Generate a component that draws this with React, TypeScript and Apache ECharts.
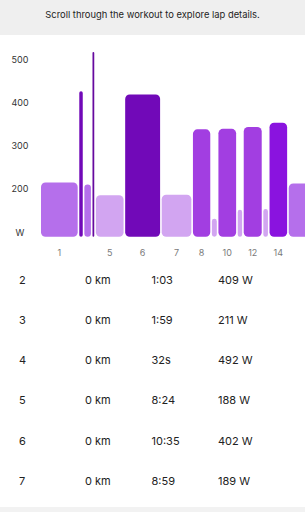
import React, { useEffect, useRef } from "react";
import * as echarts from "echarts";

// ---- data ----
const lapNumbers = [1, 2, 3, 4, 5, 6, 7, 8, 9, 10, 11, 12, 13, 14, 15];
const lapDurationsSec = [667, 63, 119, 32, 504, 635, 539, 315, 90, 322, 80, 327, 84, 320, 700];
const lapPowersW = [215, 409, 211, 492, 188, 402, 189, 328, 138, 329, 157, 333, 159, 342, 213];
const lapDistancesKm = [0, 0, 0, 0, 0, 0, 0, 0, 0, 0, 0, 0, 0, 0, 0];
const yTickValues = [100, 200, 300, 400, 500];
const yTickLabels = ["W", "200", "300", "400", "500"];
const tableLapIndices = [1, 2, 3, 4, 5, 6];
const headerText = "Scroll through the workout to explore lap details.";

// zones: upper bound -> colour
const zoneBounds = [200, 300, 336, 400, 450, 10000];
const zoneColors = ["#d2a5f1", "#b56feb", "#a23ee1", "#8a13df", "#7109b8", "#66099f"];

const FONT = "Inter";
const GAP = 1.6;
const WIDTH = 305;

function zoneColor(v: number) {
  for (let i = 0; i < zoneBounds.length; i++) if (v < zoneBounds[i]) return zoneColors[i];
  return zoneColors[zoneColors.length - 1];
}
function fmtDur(s: number) {
  if (s < 60) return s + "s";
  const m = Math.floor(s / 60);
  const r = s % 60;
  return m + ":" + (r < 10 ? "0" : "") + r;
}

export default function App() {
  const ref = useRef<HTMLDivElement>(null);
  useEffect(() => {
    document.body.style.margin = "0";
    if (!ref.current) return;
    const chart = echarts.init(ref.current, undefined, { renderer: "svg" });

    let acc = 0;
    const barData = lapNumbers.map((n, i) => {
      const start = acc;
      acc += lapDurationsSec[i];
      return [start, acc, lapPowersW[i], i, n];
    });

    const graphics: any[] = [
      { type: "rect", left: 0, top: 0, shape: { width: WIDTH, height: 35 }, style: { fill: "#efefef" }, silent: true },
      {
        type: "text",
        x: 152.5,
        y: 14.5,
        style: { text: headerText, fill: "#1e1e1e", font: `9.4px ${FONT}`, align: "center", verticalAlign: "middle" },
      },
      { type: "rect", left: 0, top: 507, shape: { width: WIDTH, height: 5 }, style: { fill: "#f2f2f2" }, silent: true },
    ];
    const colX = [19, 85, 151.5, 218];
    tableLapIndices.forEach((li, r) => {
      const y = 279.5 + r * 40.3;
      const cells = [
        String(lapNumbers[li]),
        lapDistancesKm[li] + " km",
        fmtDur(lapDurationsSec[li]),
        lapPowersW[li] + " W",
      ];
      cells.forEach((c, ci) => {
        graphics.push({
          type: "text",
          x: colX[ci],
          y,
          style: { text: c, fill: "#222", font: `11px ${FONT}`, align: "left", verticalAlign: "middle" },
        });
      });
    });

    chart.setOption({
      animation: false,
      grid: [
        { left: 41, right: 0, top: 38.9, bottom: 512 - 236.7 },
        { left: 41, right: 0, top: 59, bottom: 512 - 232.3 },
      ],
      xAxis: [
        { type: "value", gridIndex: 0, min: 0, max: 4800, show: false },
        { type: "value", gridIndex: 1, min: 0, max: 1, show: false },
      ],
      yAxis: [
        { type: "value", gridIndex: 0, min: 100, max: 520, show: false },
        {
          type: "value",
          gridIndex: 1,
          min: 100,
          max: 500,
          interval: 100,
          axisLine: { show: false },
          axisTick: { show: false },
          splitLine: { show: false },
          axisLabel: {
            align: "center",
            margin: 21,
            color: "#333",
            fontFamily: FONT,
            fontSize: 9,
            formatter: (v: number) => {
              const i = yTickValues.indexOf(v);
              return i >= 0 ? yTickLabels[i] : "";
            },
          },
        },
      ],
      series: [
        {
          type: "custom",
          xAxisIndex: 0,
          yAxisIndex: 0,
          clip: false,
          data: barData,
          renderItem: (params: any, api: any) => {
            const start = api.value(0);
            const end = api.value(1);
            const v = api.value(2);
            const idx = api.value(3);
            const lap = api.value(4);
            const p0 = api.coord([start, v]);
            const p1 = api.coord([end, 100]);
            const x0 = p0[0] + idx * GAP;
            const w = p1[0] - p0[0];
            const h = p1[1] - p0[1];
            const cs = params.coordSys;
            const children: any[] = [
              {
                type: "rect",
                shape: { x: x0, y: p0[1], width: w, height: h, r: Math.min(4.5, w / 2) },
                style: { fill: zoneColor(v) },
              },
            ];
            if (w > 10 && x0 + w <= cs.x + cs.width) {
              children.push({
                type: "text",
                x: x0 + w / 2,
                y: p1[1] + 16,
                style: {
                  text: String(lap),
                  fill: "#7a7a7a",
                  font: `9px ${FONT}`,
                  align: "center",
                  verticalAlign: "middle",
                },
              });
            }
            return { type: "group", children };
          },
        },
        { type: "line", xAxisIndex: 1, yAxisIndex: 1, data: [] },
      ],
      graphic: graphics,
    });
    return () => chart.dispose();
  }, []);
  return <div ref={ref} style={{ width: WIDTH, height: 512 }} />;
}
